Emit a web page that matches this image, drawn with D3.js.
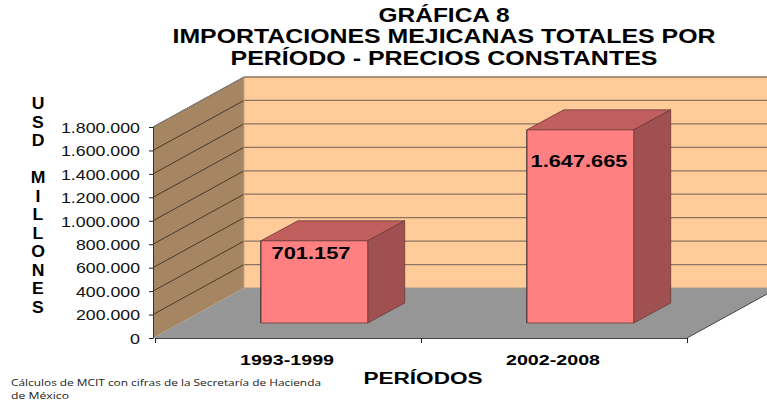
<!DOCTYPE html>
<html><head><meta charset="utf-8">
<script src="https://cdn.jsdelivr.net/npm/d3@7"></script>
<style>html,body{margin:0;padding:0;background:#fff;overflow:hidden}svg{display:block}text{font-family:"Liberation Sans",Arial,sans-serif}</style>
</head><body><svg id="c" width="767" height="400"></svg>
<script>
const categories = ["1993-1999", "2002-2008"];
const values = [701157, 1647665];
const valueLabels = ["701.157", "1.647.665"];
const tickValues = [0,200000,400000,600000,800000,1000000,1200000,1400000,1600000,1800000];
const titleLines = ["GRÁFICA 8", "IMPORTACIONES MEJICANAS TOTALES POR", "PERÍODO - PRECIOS CONSTANTES"];
const yTitleChars = ["U","S","D","","M","I","L","L","O","N","E","S"];
const xTitle = "PERÍODOS";
const sourceLines = ["Cálculos de MCIT con cifras de la Secretaría de Hacienda", "de México"];

const svg = d3.select("#c");
const y = d3.scaleLinear().domain([0,1800000]).range([338,127]);
const band = d3.scaleBand().domain(categories).range([155,687]);
const depth = {dx:91, dy:-50};
const barPlane = {dx:27, dy:-15};
const barDepth = {dx:37, dy:-20};
const poly = (pts,fill,stroke,sw) => svg.append("polygon").attr("points",pts.map(p=>p.join(",")).join(" ")).attr("fill",fill).attr("stroke",stroke||"none").attr("stroke-width",sw||0);
const x0=155, x1=687, y0=y(0), yT=y(1800000);
// back wall
poly([[x0+depth.dx-2,yT+depth.dy],[767,yT+depth.dy],[767,y0+depth.dy],[x0+depth.dx-2,y0+depth.dy]],"#FFCC99");
// floor
poly([[x0-2,y0],[x0+depth.dx-2,y0+depth.dy],[x1+depth.dx,y0+depth.dy],[x1,y0]],"#969696");
// side wall
poly([[x0-2,y0],[x0-2,yT],[x0+depth.dx-2,yT+depth.dy],[x0+depth.dx-2,y0+depth.dy]],"#A58562");
// gridlines
tickValues.forEach(v=>{
  const yy=y(v);
  if(v>0){
    svg.append("line").attr("x1",x0-2).attr("y1",yy).attr("x2",x0+depth.dx-2).attr("y2",yy+depth.dy).attr("stroke","#4a3a2a").attr("stroke-width",1);
  }
  svg.append("line").attr("x1",x0+depth.dx-2).attr("y1",yy+depth.dy).attr("x2",767).attr("y2",yy+depth.dy).attr("stroke",v===0?"#a89a88":"#8a7660").attr("stroke-width",v===0?1:1.2);
});
svg.append("line").attr("x1",x0+depth.dx-2).attr("y1",y0+depth.dy).attr("x2",x0+depth.dx-2).attr("y2",yT+depth.dy).attr("stroke","#bfa888").attr("stroke-width",1);
// top edges
svg.append("line").attr("x1",x0-2).attr("y1",yT).attr("x2",x0+depth.dx-2).attr("y2",yT+depth.dy).attr("stroke","#888").attr("stroke-width",1);
svg.append("line").attr("x1",x0+depth.dx-2).attr("y1",yT+depth.dy).attr("x2",767).attr("y2",yT+depth.dy).attr("stroke","#8a7660").attr("stroke-width",1);
svg.append("line").attr("x1",x1).attr("y1",y0).attr("x2",767).attr("y2",y0+(767-x1)*depth.dy/depth.dx).attr("stroke","#444").attr("stroke-width",1);
// bars
categories.forEach((c,i)=>{
  const l=band(c)+band.bandwidth()*0.3+barPlane.dx-1, w=band.bandwidth()*0.4+0.5, r=l+w;
  const b=y0+barPlane.dy, t=y(values[i])+barPlane.dy;
  const d=barDepth, e="#6a3a3a";
  poly([[l,t],[l+d.dx,t+d.dy],[r+d.dx,t+d.dy],[r,t]],"#C15F5F",e,0.8);
  poly([[r,t],[r+d.dx,t+d.dy],[r+d.dx,b+d.dy],[r,b]],"#A05050",e,0.8);
  poly([[l,t],[r,t],[r,b],[l,b]],"#FF8080",e,0.8);
  svg.append("line").attr("x1",l).attr("y1",t).attr("x2",l).attr("y2",b).attr("stroke","#333").attr("stroke-width",0.8);
  svg.append("text").attr("x",[311,579][i]).attr("y",t+(i?37:18)).attr("text-anchor","middle").attr("font-weight","bold").attr("font-size",16).attr("fill","#000").attr("textLength",i?97:79).attr("lengthAdjust","spacingAndGlyphs").text(valueLabels[i]);
  // category labels
  svg.append("text").attr("x",band(c)+band.bandwidth()/2-1).attr("y",365).attr("text-anchor","middle").attr("font-weight","bold").attr("font-size",14).attr("textLength",94).attr("lengthAdjust","spacingAndGlyphs").text(c);
});
// axes
const yAxis=d3.axisLeft(y).tickValues(tickValues).tickSize(4).tickFormat(d=>d3.format(",")(d).replace(/,/g,"."));
const gy=svg.append("g").attr("transform","translate(153,0)").call(yAxis);
gy.select(".domain").attr("stroke","#333");
gy.selectAll(".tick line").attr("stroke","#222");
gy.selectAll(".tick text").attr("font-family","'Liberation Sans',Arial,sans-serif").attr("font-size",14.5).attr("fill","#111").attr("x",-13).attr("dy","0.36em")
  .each(function(d){ const n=d3.format(",")(d).length; const w={1:10,7:64,9:79}[n]; d3.select(this).attr("textLength",w).attr("lengthAdjust","spacingAndGlyphs"); });
const xAxis=d3.axisBottom(d3.scaleLinear().domain([0,2]).range([x0,x1])).tickValues([0,1,2]).tickSize(5).tickFormat("");
const gx=svg.append("g").attr("transform",`translate(0,${y0})`).call(xAxis);
gx.select(".domain").attr("stroke","#444");
gx.selectAll(".tick line").attr("stroke","#222");
// titles
titleLines.forEach((s,i)=>{
  svg.append("text").attr("x",444).attr("y",[22,43,65][i]).attr("text-anchor","middle").attr("font-weight","bold").attr("font-size",19.5).attr("textLength",[131,543,427][i]).attr("lengthAdjust","spacingAndGlyphs").text(s);
});
yTitleChars.forEach((ch,i)=>{
  if(ch) svg.append("text").attr("x",38).attr("y",109+i*18.55).attr("text-anchor","middle").attr("font-weight","bold").attr("font-size",16).attr("transform",`translate(38,0) scale(1.1,1) translate(-38,0)`).text(ch);
});
svg.append("text").attr("x",423).attr("y",384).attr("text-anchor","middle").attr("font-weight","bold").attr("font-size",16).attr("textLength",119).attr("lengthAdjust","spacingAndGlyphs").text(xTitle);
sourceLines.forEach((s,i)=>{
  svg.append("text").attr("x",11).attr("y",386+i*12.5).style("font-family","'Open Sans',sans-serif").attr("font-size",9.5).attr("fill","#222").attr("textLength",i?58:310).attr("lengthAdjust","spacingAndGlyphs").text(s);
});
</script></body></html>
